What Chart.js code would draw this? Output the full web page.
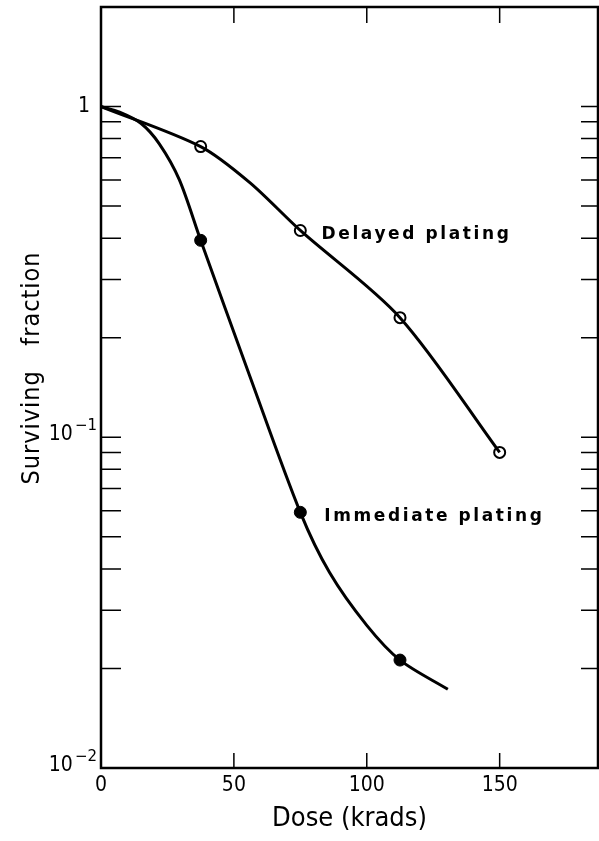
<!DOCTYPE html>
<html>
<head>
<meta charset="utf-8">
<script src="https://cdn.jsdelivr.net/npm/chart.js@4"></script>
<style>
  html, body { margin: 0; padding: 0; background: #fff; overflow: hidden; }
  #wrap { width: 599px; height: 841px; }
  canvas { display: block; }
</style>
</head>
<body>
<div id="wrap"><canvas id="chart" width="599" height="841"></canvas></div>
<script>
// measured points
const doses = [37.5, 75, 112.5, 150];
const delayedValues = [0.757, 0.422, 0.230, 0.090];
const immediateDoses = [37.5, 75, 112.5];
const immediateValues = [0.394, 0.0593, 0.0212];

// fitted curves
const delayedCurveDoses = [0, 37.5, 56, 75, 112.5, 150];
const delayedCurveValues = [1, 0.757, 0.589, 0.422, 0.230, 0.090];
const immediateCurveDoses = [0, 7, 15, 22, 29.5, 37.5, 56, 75, 86, 100, 112.5, 130.5];
const immediateCurveValues = [1, 0.962, 0.89, 0.77, 0.60, 0.394, 0.153, 0.0593, 0.039, 0.027, 0.0212, 0.0173];

// axes
const xTicks = [0, 50, 100, 150];
const yMajorTicks = [0.01, 0.1, 1];
const yMajorBase = ['10', '10', '1'];
const yMajorExp = ['\u22122', '\u22121', ''];
const yMinorTicks = [0.02, 0.03, 0.04, 0.05, 0.06, 0.07, 0.08, 0.09,
                     0.2, 0.3, 0.4, 0.5, 0.6, 0.7, 0.8, 0.9];

const labels = [
  { text: 'Delayed plating', dose: 83, value: 0.41 },
  { text: 'Immediate plating', dose: 84, value: 0.0575 }
];

const FONT = '"DejaVu Sans", sans-serif';
const FONT_C = '"DejaVu Sans Condensed", "DejaVu Sans", sans-serif';

function pts(xs, ys) {
  return xs.map((x, i) => ({ x: x, y: ys[i] }));
}

const framePlugin = {
  id: 'frame',
  beforeDatasetsDraw(chart) {
    const ctx = chart.ctx;
    const a = chart.chartArea;
    const xs = chart.scales.x;
    const ys = chart.scales.y;
    ctx.save();
    ctx.strokeStyle = '#000';
    ctx.lineWidth = 2.5;
    ctx.strokeRect(a.left, a.top, a.right - a.left, a.bottom - a.top);

    ctx.lineWidth = 1.5;
    ctx.beginPath();
    xTicks.slice(1).forEach(v => {
      const px = xs.getPixelForValue(v);
      ctx.moveTo(px, a.bottom);
      ctx.lineTo(px, a.bottom - 15);
      ctx.moveTo(px, a.top);
      ctx.lineTo(px, a.top + 16);
    });
    yMinorTicks.concat([0.1, 1]).forEach(v => {
      const py = ys.getPixelForValue(v);
      ctx.moveTo(a.left, py);
      ctx.lineTo(a.left + 20, py);
      ctx.moveTo(a.right, py);
      ctx.lineTo(a.right - 17, py);
    });
    ctx.stroke();

    // y tick labels with superscript exponents
    ctx.fillStyle = '#000';
    yMajorTicks.forEach((v, i) => {
      const py = ys.getPixelForValue(v);
      if (yMajorExp[i]) {
        ctx.font = '15px ' + FONT;
        ctx.textAlign = 'right';
        ctx.textBaseline = 'alphabetic';
        ctx.fillText(yMajorExp[i], a.left - 4, py - 7);
        const ew = ctx.measureText(yMajorExp[i]).width;
        ctx.font = '21px ' + FONT_C;
        ctx.fillText(yMajorBase[i], a.left - 6 - ew, py + 3);
      } else {
        ctx.font = '21px ' + FONT_C;
        ctx.textAlign = 'right';
        ctx.textBaseline = 'middle';
        ctx.fillText(yMajorBase[i], a.left - 11, py);
      }
    });
    ctx.restore();
  },
  afterDatasetsDraw(chart) {
    const ctx = chart.ctx;
    const xs = chart.scales.x;
    const ys = chart.scales.y;
    ctx.save();
    ctx.fillStyle = '#000';
    ctx.font = 'bold 17px ' + FONT;
    ctx.letterSpacing = '2.6px';
    ctx.textBaseline = 'middle';
    ctx.textAlign = 'left';
    labels.forEach(l => {
      ctx.fillText(l.text, xs.getPixelForValue(l.dose), ys.getPixelForValue(l.value));
    });

    ctx.letterSpacing = '1px';
    ctx.font = '25px ' + FONT_C;
    ctx.translate(32, 368);
    ctx.rotate(-Math.PI / 2);
    ctx.textAlign = 'center';
    ctx.fillText('Surviving   fraction', 0, 0);
    ctx.restore();
  }
};

new Chart(document.getElementById('chart'), {
  type: 'scatter',
  data: {
    datasets: [
      {
        label: 'Delayed curve',
        data: pts(delayedCurveDoses, delayedCurveValues),
        showLine: true,
        borderColor: '#000',
        borderWidth: 3,
        pointRadius: 0,
        tension: 0.3
      },
      {
        label: 'Immediate curve',
        data: pts(immediateCurveDoses, immediateCurveValues),
        showLine: true,
        borderColor: '#000',
        borderWidth: 3,
        pointRadius: 0,
        tension: 0.3
      },
      {
        label: 'Delayed plating',
        data: pts(doses, delayedValues),
        pointRadius: 5.5,
        pointBackgroundColor: '#fff',
        pointBorderColor: '#000',
        pointBorderWidth: 2
      },
      {
        label: 'Immediate plating',
        data: pts(immediateDoses, immediateValues),
        pointRadius: 6,
        pointBackgroundColor: '#000',
        pointBorderColor: '#000',
        pointBorderWidth: 1
      }
    ]
  },
  options: {
    responsive: false,
    animation: false,
    layout: { autoPadding: false, padding: { top: 7, right: 1, left: 0, bottom: 0 } },
    plugins: {
      legend: { display: false },
      tooltip: { enabled: false }
    },
    scales: {
      x: {
        type: 'linear',
        min: 0,
        max: 187,
        grid: { display: false, drawTicks: false },
        border: { display: false },
        afterBuildTicks: s => { s.ticks = xTicks.map(v => ({ value: v })); },
        ticks: {
          color: '#000',
          font: { family: FONT_C, size: 21 },
          padding: 5,
          maxRotation: 0
        },
        title: {
          display: true,
          text: 'Dose (krads)',
          color: '#000',
          font: { family: FONT_C, size: 27 },
          padding: { top: 0, bottom: 6 }
        },
        afterFit: s => { s.height = 73; s.paddingLeft = 0; s.paddingRight = 0; }
      },
      y: {
        type: 'logarithmic',
        min: 0.01,
        max: 2,
        grid: { display: false, drawTicks: false },
        border: { display: false },
        afterBuildTicks: s => { s.ticks = yMajorTicks.map(v => ({ value: v })); },
        ticks: { display: false },
        afterFit: s => { s.width = 101; s.paddingTop = 0; s.paddingBottom = 0; }
      }
    }
  },
  plugins: [framePlugin]
});
</script>
</body>
</html>
